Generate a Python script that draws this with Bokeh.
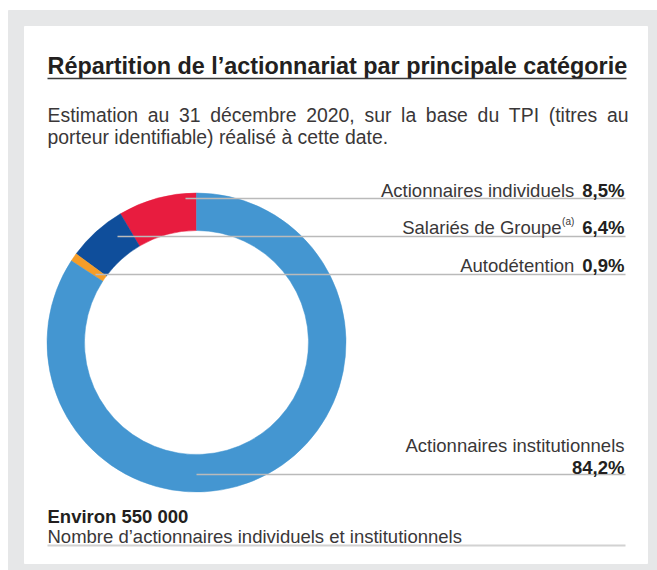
import math
from bokeh.plotting import figure
from bokeh.models import Range1d
from bokeh.embed import file_html
from bokeh.resources import INLINE
from bokeh.core.properties import value

# ---------------- data ----------------
categories = ["Actionnaires individuels", "Salariés de Groupe", "Autodétention", "Actionnaires institutionnels"]
shares = [8.5, 6.4, 0.9, 84.2]
share_labels = ["8,5%", "6,4%", "0,9%", "84,2%"]
colors = ["#e81c3f", "#0f4e9b", "#f59d28", "#4496d1"]
footnote_marks = ["", "(a)", "", ""]

title_text = "Répartition de l’actionnariat par principale catégorie"
subtitle_lines = ["Estimation au 31 décembre 2020, sur la base du TPI (titres au",
                  "porteur identifiable) réalisé à cette date."]
total_value = "Environ 550 000"
total_caption = "Nombre d’actionnaires individuels et institutionnels"

# ---------------- layout helpers ----------------
PAGE_W, PAGE_H = 657, 570


def Y(py):
    return PAGE_H - py


REG = dict(zip("abcdefghijklmnopqrstuvwxyz",
               [556, 556, 500, 556, 556, 278, 556, 556, 222, 222, 500, 222, 833,
                556, 556, 556, 556, 333, 500, 278, 556, 500, 722, 500, 500, 500]))
REG.update(dict(zip("ABCDEFGHIJKLMNOPQRSTUVWXYZ",
                    [667, 667, 722, 722, 667, 611, 778, 722, 278, 500, 667, 556, 833,
                     722, 778, 667, 778, 722, 667, 611, 722, 667, 944, 667, 667, 611])))
REG.update({c: 556 for c in "0123456789"})
REG.update({" ": 278, ",": 278, ".": 278, "(": 333, ")": 333, "%": 889, "’": 222,
            "é": 556, "è": 556, "à": 556})
BOLD = dict(zip("abcdefghijklmnopqrstuvwxyz",
                [556, 611, 556, 611, 556, 333, 611, 611, 278, 278, 556, 278, 889,
                 611, 611, 611, 611, 389, 556, 333, 611, 556, 778, 556, 556, 500]))
BOLD.update({c: 556 for c in "0123456789"})
BOLD.update({" ": 278, ",": 278, ".": 278, "%": 889, "’": 278, "é": 556, "R": 722, "E": 667})


def tw(s, size, bold=False):
    t = BOLD if bold else REG
    return sum(t.get(ch, 556) for ch in s) * size / 1000.0


FONT = value("Liberation Sans")
TXT = "#231f20"      # bold / title text
LIGHT = "#3a3738"    # regular body text (reference uses a light weight)
BODY = "18.5px"
BODY_PX = 18.5
SUB_PX = 19.4
LEFT, RIGHT = 47, 625

p = figure(width=PAGE_W, height=PAGE_H, x_range=Range1d(0, PAGE_W), y_range=Range1d(0, PAGE_H),
           output_backend="svg", toolbar_location=None, min_border=0,
           x_axis_type=None, y_axis_type=None)
p.grid.visible = False
p.outline_line_color = None
p.background_fill_color = "white"
p.border_fill_color = "white"

# background panel and card
p.quad(left=8, right=PAGE_W, top=Y(10), bottom=Y(PAGE_H), color="#e6e7e8")
p.quad(left=24, right=647, top=Y(26), bottom=Y(563), color="white")

# title
p.text(x=[LEFT], y=[Y(65)], text=[title_text], text_font=FONT, text_font_style="bold",
       text_font_size="23.4px", text_color=TXT, text_baseline="alphabetic", text_align="left")
p.segment(x0=[LEFT], y0=[Y(78)], x1=[RIGHT + 1], y1=[Y(78)], line_color="#3a3a3a", line_width=1.5)

# subtitle (first line justified)
words = subtitle_lines[0].split(" ")
wsum = sum(tw(w, SUB_PX) for w in words)
gap = (RIGHT + 3 - LEFT - wsum) / (len(words) - 1)
xs, cur = [], LEFT
for w in words:
    xs.append(cur)
    cur += tw(w, SUB_PX) + gap
p.text(x=xs, y=[Y(114)] * len(words), text=words, text_font=FONT, text_font_size=f"{SUB_PX}px",
       text_color=LIGHT, text_baseline="alphabetic", text_align="left")
p.text(x=[LEFT], y=[Y(136)], text=[subtitle_lines[1]], text_font=FONT, text_font_size=f"{SUB_PX}px",
       text_color=LIGHT, text_baseline="alphabetic", text_align="left")

# donut
cx, cy = 196, Y(342)
total = sum(shares)
starts, ends = [], []
a = math.pi / 2
for s in shares:
    starts.append(a)
    a += 2 * math.pi * s / total
    ends.append(a)
p.annular_wedge(x=cx, y=cy, inner_radius=112, outer_radius=149.5,
                start_angle=starts, end_angle=ends, fill_color=colors,
                line_color=colors, line_width=0.5, direction="anticlock")

# leader lines
line_y = [198, 236, 274, 474]
line_x0 = [185, 117, 95, 196]
p.segment(x0=line_x0, y0=[Y(v) for v in line_y], x1=[RIGHT] * 4, y1=[Y(v) for v in line_y],
          line_color="#bababa", line_width=1.3)

# labels
TR = 624
label_base = [190, 227, 265]
for i in range(3):
    yb = Y(label_base[i])
    p.text(x=[TR], y=[yb], text=[share_labels[i]], text_font=FONT, text_font_style="bold",
           text_font_size=BODY, text_color=TXT, text_baseline="alphabetic", text_align="right")
    xr = TR - tw(share_labels[i], BODY_PX, True) - 8
    if footnote_marks[i]:
        p.text(x=[xr], y=[yb + 6], text=[footnote_marks[i]], text_font=FONT,
               text_font_size="10px", text_color=LIGHT, text_baseline="alphabetic",
               text_align="right")
        xr -= tw(footnote_marks[i], 10) + 0.5
    p.text(x=[xr], y=[yb], text=[categories[i]], text_font=FONT, text_font_size=BODY,
           text_color=LIGHT, text_baseline="alphabetic", text_align="right")

p.text(x=[TR], y=[Y(445)], text=[categories[3]], text_font=FONT, text_font_size=BODY,
       text_color=LIGHT, text_baseline="alphabetic", text_align="right")
p.text(x=[TR], y=[Y(467)], text=[share_labels[3]], text_font=FONT, text_font_style="bold",
       text_font_size=BODY, text_color=TXT, text_baseline="alphabetic", text_align="right")

# bottom
p.text(x=[LEFT], y=[Y(516)], text=[total_value], text_font=FONT, text_font_style="bold",
       text_font_size=BODY, text_color=TXT, text_baseline="alphabetic", text_align="left")
p.text(x=[LEFT], y=[Y(536)], text=[total_caption], text_font=FONT, text_font_size=BODY,
       text_color=LIGHT, text_baseline="alphabetic", text_align="left")
p.segment(x0=[LEFT], y0=[Y(545)], x1=[RIGHT], y1=[Y(545)], line_color="#d2d2d2", line_width=2)

open("out.html", "w").write(file_html(p, INLINE))
